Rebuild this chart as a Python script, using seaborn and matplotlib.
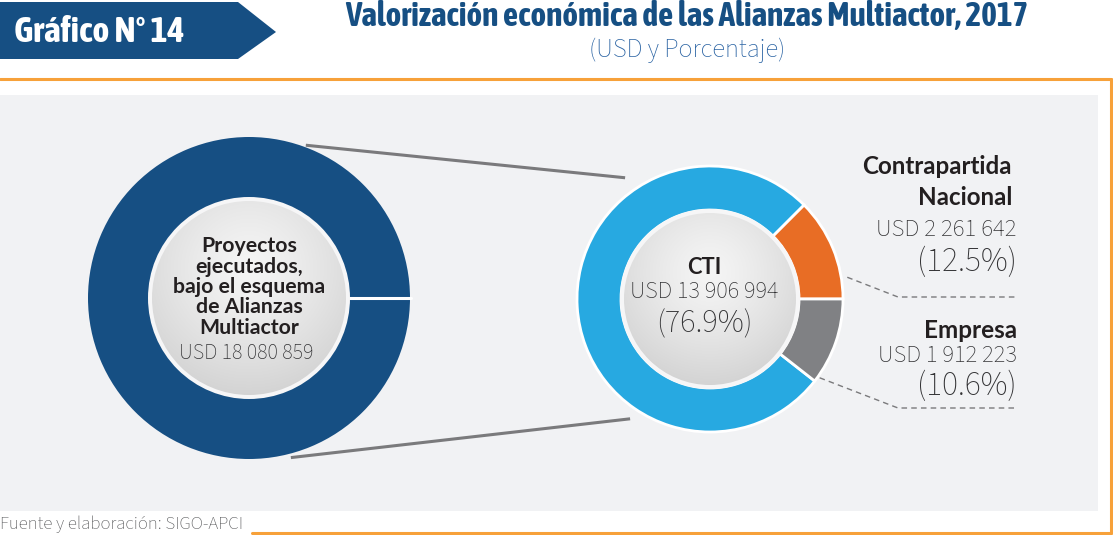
import numpy as np
import matplotlib
matplotlib.use("Agg")
import matplotlib.pyplot as plt
import seaborn as sns
from matplotlib.patches import Polygon, Circle, Rectangle
import logging
logging.getLogger("matplotlib.font_manager").setLevel(logging.ERROR)

# ---------------- data ----------------
total_label = "Proyectos\nejecutados,\nbajo el esquema\nde Alianzas\nMultiactor"
total_value = 18080859
categories = ["Contrapartida\nNacional", "CTI", "Empresa"]
values = [2261642, 13906994, 1912223]
percent_labels = ["(12.5%)", "(76.9%)", "(10.6%)"]
colors = ["#e86d25", "#27a9e1", "#808184"]
title = "Valorización económica de las Alianzas Multiactor, 2017"
subtitle = "(USD y Porcentaje)"
badge = "Gráfico N° 14"
source = "Fuente y elaboración: SIGO-APCI"

def usd(v):
    return "USD " + f"{v:,}".replace(",", " ")

# ---------------- style ----------------
sns.set_theme(style="white")
BODY = ["Source Sans 3", "Source Sans Pro", "PT Sans", "Open Sans", "DejaVu Sans"]
BOLD = ["Lato", "Open Sans", "DejaVu Sans"]
COND = ["Asap Condensed", "Barlow Semi Condensed", "DejaVu Sans"]
plt.rcParams["font.family"] = BODY

W, H = 1113, 535
fig = plt.figure(figsize=(W / 100, H / 100), dpi=100)
ax = fig.add_axes([0, 0, 1, 1])
ax.set_xlim(0, W)
ax.set_ylim(0, H)
renderer = fig.canvas.get_renderer()

def Y(p):
    return H - p

def fit(x, y, s, width, **kw):
    """Place text and scale its font so it spans `width` pixels."""
    t = ax.text(x, Y(y), s, fontsize=10, **kw)
    w = t.get_window_extent(renderer).width
    t.set_fontsize(10 * width / w)
    return t

DARK = "#164f83"
ORANGE = "#f7a13a"
PANEL = "#f1f2f4"
TXT = "#231f20"
GTXT = "#333335"

# panel and frame
ax.add_patch(Rectangle((0, Y(511)), 1098, 511 - 95, facecolor=PANEL, edgecolor="none", zorder=0))
ax.plot([0, 1111], [Y(79), Y(79)], color=ORANGE, lw=2.2, zorder=1)
ax.plot([1111, 1111], [Y(79), Y(533)], color=ORANGE, lw=2.2, zorder=1)
ax.plot([252, 1111], [Y(533), Y(533)], color=ORANGE, lw=2.2, zorder=1)

# badge, title, subtitle, source
ax.add_patch(Polygon([(0, Y(2)), (238, Y(2)), (276, Y(32)), (238, Y(59)), (0, Y(59))],
                     closed=True, facecolor=DARK, edgecolor="none", zorder=2))
fit(14, 32, badge, 170, color="white", fontweight="bold", family=COND,
    va="center", ha="left", zorder=3)
fit(687, 17, title, 676, color=DARK, fontweight="bold", family=COND,
    va="center", ha="center")
fit(687, 50, subtitle, 197, color="#2a63a3", va="center", ha="center")
fit(0, 524, source, 245, color="#58595b", va="center", ha="left")

# geometry
Lc, Lr, Li = (249, Y(298)), 161, 100
Rc, Rr, Ri = (710, Y(299)), 133, 89

def pt(c, ang, r):
    a = np.deg2rad(ang)
    return c[0] + r * np.cos(a), c[1] + r * np.sin(a)

# connector lines
for (a1, r1, a2, r2) in [(69.6, 163, 125, 148), (-75.3, 165, -123.7, 144)]:
    p1, p2 = pt(Lc, a1, r1), pt(Rc, a2, r2)
    ax.plot([p1[0], p2[0]], [p1[1], p2[1]], color="#7a7a7c", lw=2.2,
            solid_capstyle="butt", zorder=2)

# left donut (total)
ax.pie([total_value], colors=[DARK], radius=Lr, center=Lc, startangle=0,
       wedgeprops=dict(width=Lr - Li, edgecolor="none"), frame=True)
p1, p2 = pt(Lc, 0, Li), pt(Lc, 0, Lr + 1)
ax.plot([p1[0], p2[0]], [p1[1], p2[1]], color="white", lw=2.2, zorder=5)

# right donut (breakdown)
ax.pie(values, colors=colors, radius=Rr, center=Rc, startangle=0, counterclock=True,
       wedgeprops=dict(width=Rr - Ri, edgecolor="white", linewidth=2), frame=True)

# gradient inner circles
def grad_circle(c, r):
    ax.add_patch(Circle(c, r + 1, facecolor="#f6f6f7", edgecolor="none", zorder=6))
    n = 200
    yy, xx = np.mgrid[0:1:n * 1j, 0:1:n * 1j]
    d = np.sqrt((xx - 0.5) ** 2 + (yy - 0.35) ** 2)
    g = 0.96 - 0.19 * np.clip(d / 0.85, 0, 1) ** 1.3
    img = np.dstack([g, g, g])
    im = ax.imshow(img, extent=(c[0] - r, c[0] + r, c[1] - r, c[1] + r),
                   origin="upper", zorder=7, interpolation="bilinear")
    im.set_clip_path(Circle(c, r - 3, transform=ax.transData))

grad_circle(Lc, Li)
grad_circle(Rc, Ri)

# left center text
fit(Lc[0], 287, total_label, 153, color=TXT, fontweight="bold", family=BOLD,
    ha="center", va="center", linespacing=1.02, zorder=8)
fit(Lc[0] - 3, 353, usd(total_value), 134, color=GTXT,
    ha="center", va="center", zorder=8)

# right center text (CTI)
fit(704, 268, categories[1], 34, color=TXT, fontweight="bold", family=BOLD,
    ha="center", va="center", zorder=8)
fit(704, 292, usd(values[1]), 148, color=GTXT, ha="center", va="center", zorder=8)
fit(704, 324, percent_labels[1], 97, color=GTXT, ha="center", va="center", zorder=8)

# right side labels
XR = 1017
fit(1012, 182, categories[0], 150, color=TXT, fontweight="bold", family=BOLD,
    ha="right", va="center", linespacing=1.45, multialignment="right")
fit(XR, 229, usd(values[0]), 139, color=GTXT, ha="right", va="center")
fit(XR, 262, percent_labels[0], 100, color=GTXT, ha="right", va="center")
fit(XR, 331, categories[2], 93, color=TXT, fontweight="bold", family=BOLD,
    ha="right", va="center")
fit(XR, 355, usd(values[2]), 138, color=GTXT, ha="right", va="center")
fit(XR, 386, percent_labels[2], 100, color=GTXT, ha="right", va="center")

# dashed leader lines
for (a, r, yb) in [(9, 139, 297), (-35.7, 135, 408)]:
    p = pt(Rc, a, r)
    ax.plot([p[0], 898, XR], [p[1], Y(yb), Y(yb)], color="#7a7a7c", lw=1,
            dashes=(4, 3), zorder=3)

ax.set_xlim(0, W)
ax.set_ylim(0, H)
ax.set_aspect("equal")
ax.axis("off")
fig.savefig("out.png", dpi=100)
